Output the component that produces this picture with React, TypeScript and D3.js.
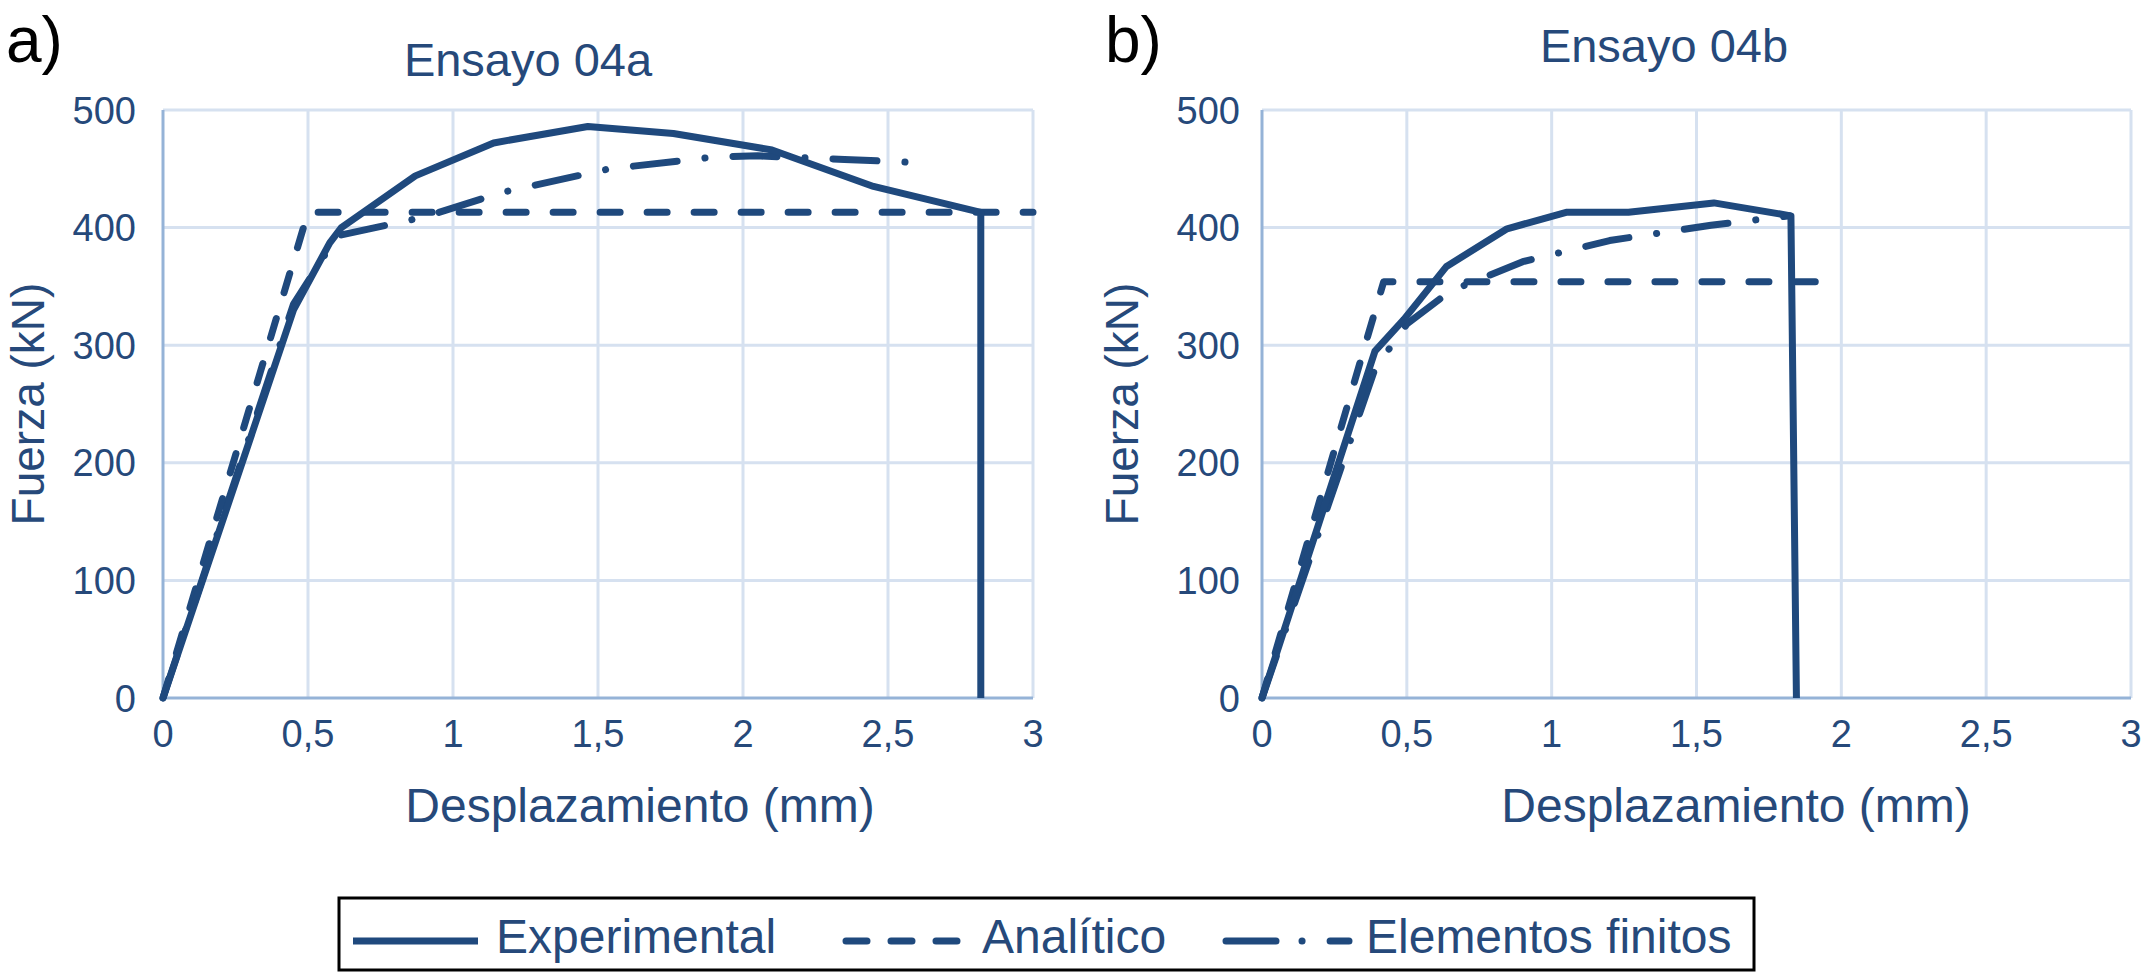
import * as d3 from 'd3'

type Pt = [number, number]

// axis ticks shared by both panels
const xTicks = [0, 0.5, 1, 1.5, 2, 2.5, 3]
const yTicks = [0, 100, 200, 300, 400, 500]
const seriesNames = ['Experimental', 'Analítico', 'Elementos finitos']

// Ensayo 04a (displacement mm, force kN)
const experimentalA: Pt[] = [
  [0, 0], [0.45, 330], [0.575, 387], [0.615, 400], [0.87, 444], [1.14, 472],
  [1.465, 486], [1.76, 480], [2.1, 466], [2.45, 435], [2.82, 413], [2.82, 0]
]
const analyticA: Pt[] = [[0, 0], [0.5, 413], [3, 413]]
const femA: Pt[] = [
  [0, 0], [0.45, 335], [0.6, 393], [0.9, 409], [1.17, 430], [1.54, 450],
  [1.9, 460], [2.05, 461], [2.35, 458], [2.62, 455]
]

// Ensayo 04b
const experimentalB: Pt[] = [
  [0, 0], [0.39, 295], [0.49, 322], [0.637, 367], [0.846, 399], [1.05, 413],
  [1.265, 413], [1.56, 421], [1.826, 410], [1.845, 0]
]
const analyticB: Pt[] = [[0, 0], [0.42, 354], [1.91, 354]]
const femB: Pt[] = [
  [0, 0], [0.39, 280], [0.5, 318], [0.65, 346], [0.9, 371], [1.2, 389],
  [1.55, 402], [1.82, 410]
]

const LINE = '#1F497D'
const TEXT = '#26497A'
const GRID = '#D6E1F0'
const AXIS = '#95B3D7'
const FONT = "'Liberation Sans', Arial, sans-serif"
const DASH = '20 27'
const DASHDOT = '44 28 0.1 28'
const LW = 7

const fmt = (d: number) => String(d).replace('.', ',')

interface PanelProps {
  left: number
  right: number
  letter: string
  letterX: number
  title: string
  titleX: number
  titleY: number
  xTitleX: number
  yTitleX: number
  labelGap: number
  experimental: Pt[]
  analytic: Pt[]
  fem: Pt[]
}

function Panel(p: PanelProps) {
  const top = 110
  const bottom = 698
  const x = d3.scaleLinear().domain([0, 3]).range([p.left, p.right])
  const y = d3.scaleLinear().domain([0, 500]).range([bottom, top])
  const line = d3.line<Pt>().x(d => x(d[0])).y(d => y(d[1]))

  return (
    <g>
      <text x={p.letterX} y={62} fontSize={64} fill="#000" fontFamily={FONT}>{p.letter}</text>
      <text x={p.titleX} y={p.titleY} fontSize={47} fill={TEXT} fontFamily={FONT} textAnchor="middle">{p.title}</text>

      {/* grid */}
      {yTicks.filter(t => t > 0).map(t => (
        <line key={'gy' + t} x1={p.left} x2={p.right} y1={y(t)} y2={y(t)} stroke={GRID} strokeWidth={3} />
      ))}
      {xTicks.filter(t => t > 0).map(t => (
        <line key={'gx' + t} x1={x(t)} x2={x(t)} y1={top} y2={bottom} stroke={GRID} strokeWidth={3} />
      ))}
      <line x1={p.left} x2={p.right} y1={bottom} y2={bottom} stroke={AXIS} strokeWidth={3} />
      <line x1={p.left} x2={p.left} y1={top} y2={bottom} stroke={AXIS} strokeWidth={3} />

      {/* tick labels */}
      {yTicks.map(t => (
        <text key={'ly' + t} x={p.left - p.labelGap} y={y(t)} dy="0.36em" textAnchor="end"
          fontSize={38} fill={TEXT} fontFamily={FONT}>{t}</text>
      ))}
      {xTicks.map(t => (
        <text key={'lx' + t} x={x(t)} y={bottom + 49} textAnchor="middle"
          fontSize={38} fill={TEXT} fontFamily={FONT}>{fmt(t)}</text>
      ))}

      {/* axis titles */}
      <text x={p.xTitleX} y={822} textAnchor="middle" fontSize={48} fill={TEXT} fontFamily={FONT}>
        Desplazamiento (mm)
      </text>
      <text transform={`translate(${p.yTitleX},${(top + bottom) / 2}) rotate(-90)`} textAnchor="middle"
        fontSize={46} fill={TEXT} fontFamily={FONT}>
        Fuerza (kN)
      </text>

      {/* series */}
      <path d={line(p.fem) || ''} fill="none" stroke={LINE} strokeWidth={LW}
        strokeDasharray={DASHDOT} strokeLinecap="round" strokeLinejoin="round" />
      <path d={line(p.analytic) || ''} fill="none" stroke={LINE} strokeWidth={LW}
        strokeDasharray={DASH} strokeLinecap="round" strokeLinejoin="round" />
      <path d={line(p.experimental) || ''} fill="none" stroke={LINE} strokeWidth={LW}
        strokeLinejoin="round" />
    </g>
  )
}

function Legend() {
  const y = 941
  const samples = [
    { x1: 353, x2: 478, dash: undefined as string | undefined, tx: 496 },
    { x1: 846, x2: 961, dash: '21 24', tx: 982 },
    { x1: 1226, x2: 1349, dash: '50 26 0.1 28', tx: 1366 }
  ]
  return (
    <g>
      <rect x={339} y={898} width={1415} height={72} fill="#fff" stroke="#000" strokeWidth={3} />
      {samples.map((s, i) => (
        <g key={i}>
          <line x1={s.x1} x2={s.x2} y1={y} y2={y} stroke={LINE} strokeWidth={LW}
            strokeDasharray={s.dash} strokeLinecap={s.dash ? 'round' : 'butt'} />
          <text x={s.tx} y={953} fontSize={48} fill={TEXT} fontFamily={FONT}>{seriesNames[i]}</text>
        </g>
      ))}
    </g>
  )
}

export default function App() {
  return (
    <svg width={2144} height={974} style={{ position: 'absolute', left: 0, top: 0, background: '#fff' }}>
      <Panel left={163} right={1033} letter="a)" letterX={6} title="Ensayo 04a" titleX={528} titleY={76}
        xTitleX={640} yTitleX={44} labelGap={27}
        experimental={experimentalA} analytic={analyticA} fem={femA} />
      <Panel left={1262} right={2131} letter="b)" letterX={1105} title="Ensayo 04b" titleX={1664} titleY={62}
        xTitleX={1736} yTitleX={1138} labelGap={22}
        experimental={experimentalB} analytic={analyticB} fem={femB} />
      <Legend />
    </svg>
  )
}
